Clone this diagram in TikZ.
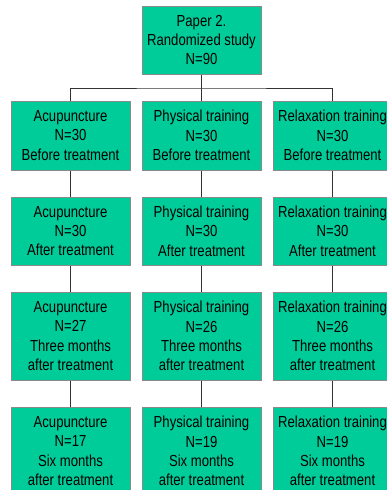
\documentclass[tikz,border=0pt]{standalone}
\usepackage{fontspec}
\setmainfont[FakeStretch=0.82]{Liberation Sans}
\definecolor{boxfill}{HTML}{00CC99}
\definecolor{boxline}{HTML}{8A8A8A}
\definecolor{conn}{HTML}{333333}
\begin{document}
\begin{tikzpicture}[x=1pt,y=-1pt,
  box/.style={draw=boxline, line width=1pt, fill=boxfill, minimum width=119pt, inner sep=0pt, align=center, font=\fontsize{16}{19.3}\selectfont, text=black},
  shortbox/.style={box, minimum height=68pt},
  tallbox/.style={box, minimum height=88pt},
  link/.style={draw=conn, line width=0.9pt}]
\useasboundingbox (0,0) rectangle (387,490);
\clip (0,0) rectangle (387,490);
\fill[white] (0,0) rectangle (387,490);
\node[shortbox] (top) at (201.5,40) {Paper 2.\\Randomized study\\N=90};
% row 1
\node[shortbox, minimum height=69pt] (a1) at (70.5,135.5) {Acupuncture\\N=30\\Before treatment};
\node[shortbox, minimum height=69pt] (b1) at (201.5,135.5) {Physical training\\N=30\\Before treatment};
\node[shortbox, minimum height=69pt] (c1) at (332.5,135.5) {Relaxation training\\N=30\\Before treatment};
% row 2
\node[shortbox] (a2) at (70.5,231) {Acupuncture\\N=30\\After treatment};
\node[shortbox] (b2) at (201.5,231) {Physical training\\N=30\\After treatment};
\node[shortbox] (c2) at (332.5,231) {Relaxation training\\N=30\\After treatment};
% row 3
\node[tallbox] (a3) at (70.5,336) {Acupuncture\\N=27\\Three months\\after treatment};
\node[tallbox] (b3) at (201.5,336) {Physical training\\N=26\\Three months\\after treatment};
\node[tallbox] (c3) at (332.5,336) {Relaxation training\\N=26\\Three months\\after treatment};
% row 4
\node[tallbox] (a4) at (70.5,451) {Acupuncture\\N=17\\Six months\\after treatment};
\node[tallbox] (b4) at (201.5,451) {Physical training\\N=19\\Six months\\after treatment};
\node[tallbox] (c4) at (332.5,451) {Relaxation training\\N=19\\Six months\\after treatment};
% connectors
\coordinate (j) at (201.5,88);
\draw[link] (top.south) -- (j);
\draw[link] (a1.north) |- (j) -| (c1.north);
\draw[link] (j) -- (b1.north);
\foreach \c in {a,b,c}{
  \draw[link] (\c1.south) -- (\c2.north);
  \draw[link] (\c2.south) -- (\c3.north);
  \draw[link] (\c3.south) -- (\c4.north);
}
\end{tikzpicture}
\end{document}
